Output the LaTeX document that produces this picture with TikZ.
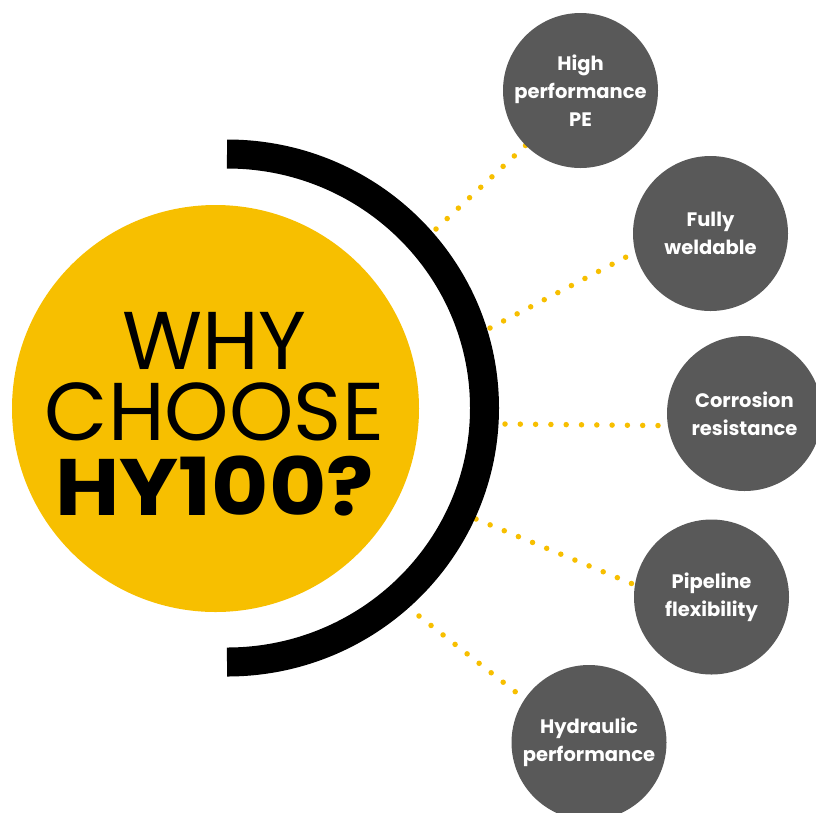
\documentclass[tikz,border=0pt]{standalone}
\usepackage{fontspec}
\setmainfont{Poppins}
\usetikzlibrary{backgrounds}
\definecolor{hyyellow}{HTML}{F7BF00}
\definecolor{hygrey}{HTML}{595959}
\begin{document}
\begin{tikzpicture}[x=1pt,y=-1pt,
  hubstyle/.style={circle, fill=hyyellow, minimum size=407pt, inner sep=0pt},
  titlestyle/.style={anchor=base, inner sep=0pt, text=black, align=center,
    font=\fontsize{82}{71}\selectfont},
  feature/.style={circle, fill=hygrey, minimum size=155pt, inner sep=0pt, text=white,
    font=\bfseries\fontsize{19.5}{28}\selectfont, align=center},
  dotline/.style={draw=hyyellow, line width=5.5pt, line cap=round, dash pattern=on 0pt off 15.3pt},
  ring/.style={draw=black, line width=29pt, line cap=butt}]
\useasboundingbox (0,0) rectangle (816,812);
\node[titlestyle] (title) at (214.5,515)
  {WHY\\CHOOSE\\[4pt]{\bfseries\fontsize{80}{71}\selectfont\scalebox{1.1}[1]{HY100?}}};
\coordinate (s1) at (436,229);
\coordinate (s2) at (490,328);
\coordinate (s3) at (505,424);
\coordinate (s4) at (476,519);
\coordinate (s5) at (419,616);
\node[feature] (c1) at (580.5,90.5) {High\\performance\\PE};
\node[feature] (c2) at (710.5,233.5) {Fully\\weldable};
\node[feature] (c3) at (744.5,413.5) {Corrosion\\resistance};
\node[feature] (c4) at (711.5,597) {Pipeline\\flexibility};
\node[feature] (c5) at (589,742.5) {Hydraulic\\performance};
\begin{scope}[on background layer]
\node[hubstyle] (hub) at (215.5,408.5) {};
\draw[dotline] (s1) -- (c1.225);
\draw[dotline] (s2) -- (c2.194);
\draw[dotline] (s3) -- (c3.189);
\draw[dotline] (s4) -- (c4.171);
\draw[dotline] (s5) -- (c5.146);
\coordinate (ringc) at (227,408);
\draw[ring] (227,154) arc[start angle=-90, end angle=90, x radius=257.5, y radius=254];
\end{scope}
\end{tikzpicture}
\end{document}
